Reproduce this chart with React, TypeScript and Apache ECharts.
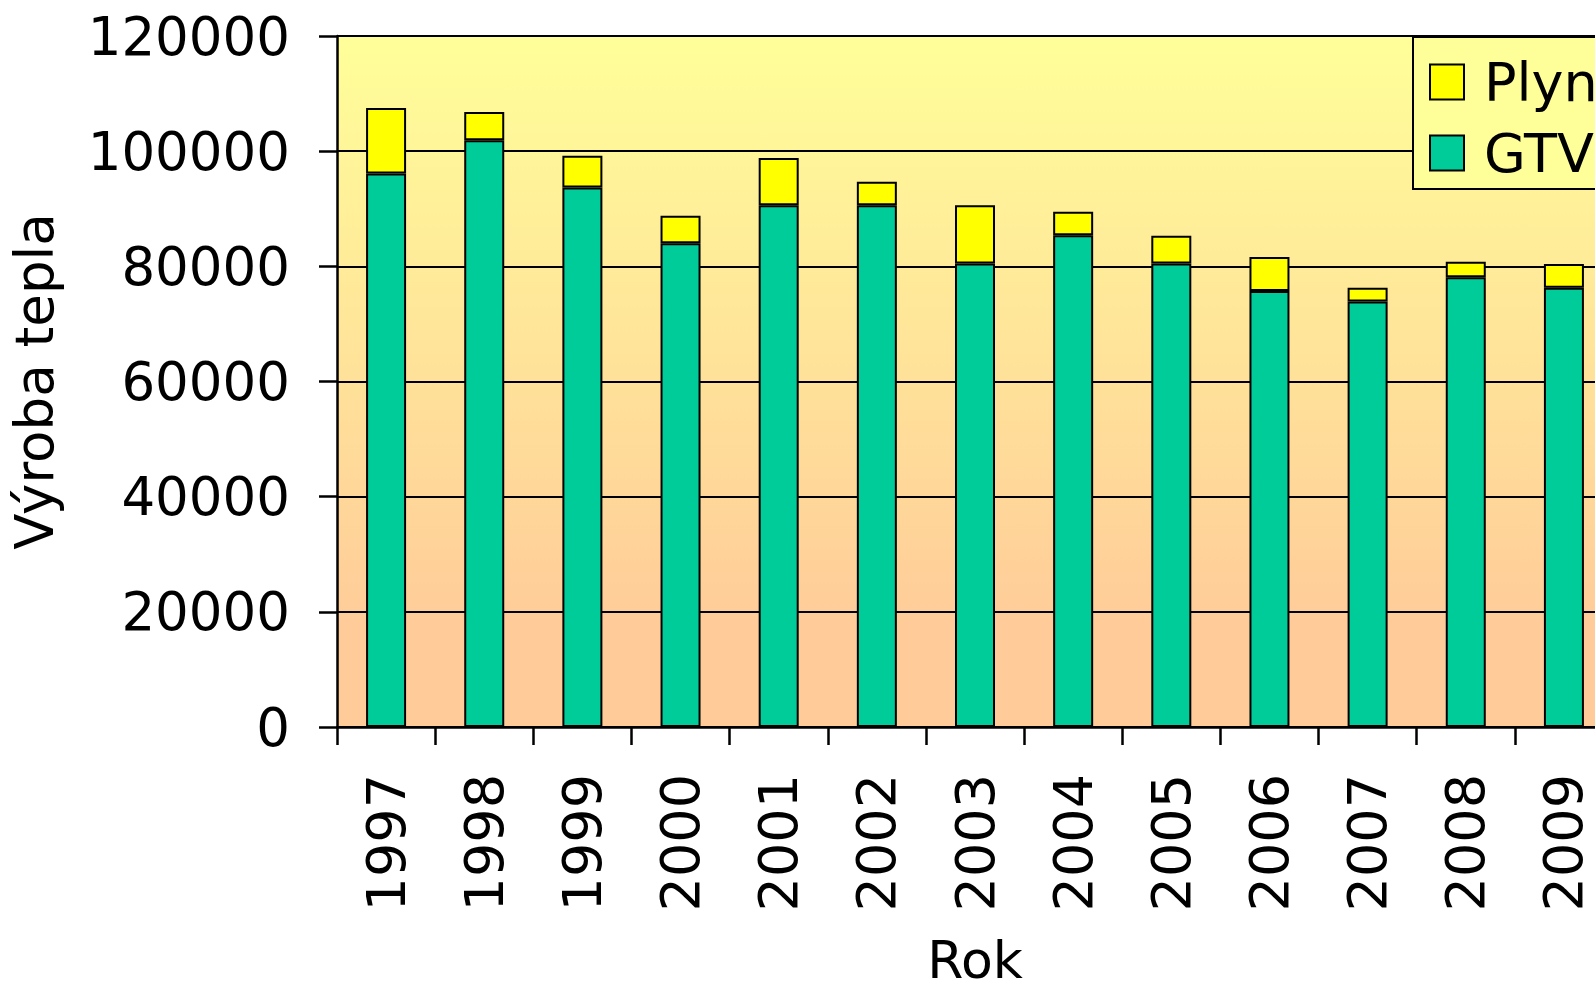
import React, { useEffect, useRef } from "react";
import * as echarts from "echarts";

const years = ["1997", "1998", "1999", "2000", "2001", "2002", "2003", "2004", "2005", "2006", "2007", "2008", "2009"];
const gtv = [96100, 101900, 93700, 84000, 90600, 90600, 80500, 85400, 80500, 75700, 73900, 78100, 76300];
const plyn = [11400, 4900, 5500, 4800, 8200, 4100, 10100, 4100, 4800, 5900, 2400, 2700, 4100];

const FONT = "DejaVu Sans";

export default function App() {
  const ref = useRef<HTMLDivElement>(null);
  useEffect(() => {
    if (!ref.current) return;
    const chart = echarts.init(ref.current, undefined, { renderer: "svg" });
    chart.setOption({
      animation: false,
      backgroundColor: "#ffffff",
      grid: {
        left: 335,
        top: 36,
        width: 1278,
        height: 692,
        show: true,
        borderWidth: 0,
        backgroundColor: new echarts.graphic.LinearGradient(0, 0, 0, 1, [
          { offset: 0, color: "#FFFF99" },
          { offset: 0.85, color: "#FFCC99" },
          { offset: 1, color: "#FFCC99" },
        ]),
      },
      legend: {
        orient: "vertical",
        left: 1413,
        top: 37,
        padding: [18, 20, 9, 16],
        itemGap: 17,
        itemWidth: 34,
        itemHeight: 35,
        borderColor: "#000",
        borderWidth: 2,
        backgroundColor: "#FFFF99",
        data: ["Plyn", "GTV"],
        icon: "rect",
        itemStyle: { borderColor: "#000", borderWidth: 2 },
        textStyle: {
          fontFamily: FONT,
          fontSize: 54,
          color: "#000",
          padding: [0, 0, 0, 15],
        },
      },
      xAxis: {
        type: "category",
        data: years,
        name: "Rok",
        nameLocation: "middle",
        nameGap: 207,
        nameTextStyle: { fontFamily: FONT, fontSize: 52, color: "#000" },
        axisLine: { lineStyle: { color: "#000", width: 2.5 } },
        axisTick: { show: true, length: 18, lineStyle: { color: "#000", width: 2.5 } },
        axisLabel: {
          rotate: 90,
          margin: 47,
          fontFamily: FONT,
          fontSize: 54,
          color: "#000",
        },
      },
      yAxis: {
        type: "value",
        min: 0,
        max: 120000,
        interval: 20000,
        name: "Výroba tepla",
        nameLocation: "middle",
        nameGap: 276,
        nameTextStyle: { fontFamily: FONT, fontSize: 53, color: "#000" },
        axisLine: { show: true, lineStyle: { color: "#000", width: 2.5 } },
        axisTick: { show: true, length: 18, lineStyle: { color: "#000", width: 2.5 } },
        axisLabel: {
          margin: 47,
          fontFamily: FONT,
          fontSize: 53,
          color: "#000",
          formatter: (v: number) => String(v),
        },
        splitLine: { show: true, lineStyle: { color: "#000", width: 2 } },
      },
      series: [
        {
          name: "GTV",
          type: "bar",
          stack: "total",
          barWidth: 40,
          data: gtv,
          itemStyle: { color: "#00CC99", borderColor: "#000", borderWidth: 2 },
        },
        {
          name: "Plyn",
          type: "bar",
          stack: "total",
          barWidth: 40,
          data: plyn,
          itemStyle: { color: "#FFFF00", borderColor: "#000", borderWidth: 2 },
        },
      ],
    });
    return () => chart.dispose();
  }, []);
  return (
    <div style={{ position: "fixed", left: 0, top: 0, width: 1595, height: 991, overflow: "hidden", background: "#fff" }}>
      <div ref={ref} style={{ width: 1680, height: 991 }} />
    </div>
  );
}
